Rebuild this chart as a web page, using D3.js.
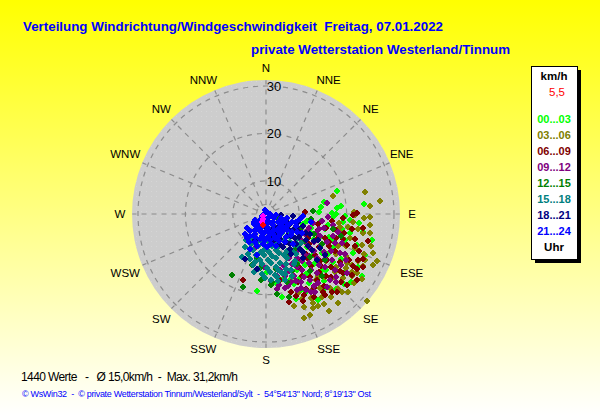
<!DOCTYPE html>
<html><head><meta charset="utf-8">
<script src="https://cdn.jsdelivr.net/npm/d3@7"></script>
<style>html,body{margin:0;padding:0;background:#fff}svg{display:block}text{font-family:"Liberation Sans",Arial,sans-serif}</style>
</head><body><div id="chart"></div>
<script>
const directions=["N","NNE","NE","ENE","E","ESE","SE","SSE","S","SSW","SW","WSW","W","WNW","NW","NNW"];
const ringValues=[5,10,20,30];
const ringLabels=[10,20,30];
const legendLabels=["00...03","03...06","06...09","09...12","12...15","15...18","18...21","21...24"];
const legendColors=["#00ff00","#808000","#800000","#800080","#008000","#008080","#000080","#0000ff"];
// each reading: [direction in degrees, speed in km/h]
const h00=[[72,18.7],[83,14.6],[85,18],[84,18.9],[84,23.8],[91.5,19.7],[89,17],[90,17.8],[93,17.1],[95.5,22.7],[100.5,23.8],[102.7,21.1],[99.7,11.8],[113,13.3],[105,11],[122.9,27.1],[128.7,26],[112.5,25.6],[141.4,23],[141.9,20.4],[152.8,21.5],[186.7,19.4],[169,20.8],[160.6,22],[179,15.2],[78,15.5],[88,14.2],[97,14.6],[104,15.8],[110,17.2],[96,19.3],[108,20.5],[116,19],[121,21.4],[114,23],[127,23.6],[133,20.2],[125,17.3],[136,17.6],[146,18.2],[151,16.5],[158,19],[144,14.9],[129,14.2],[118,14.4],[107,12.9],[165,17.2],[137,24.6],[149,24.2],[104,26],[100,16.2],[113,15.4],[123,18.6],[131,16.2],[139,21.6],[148,20.2],[155,20.6],[126,20.4],[117,21.8],[109,23.4],[94,20.7],[101,19.3],[143,16.6],[135,19.6],[152,18.2],[160,17.8],[172,17.8],[120,25.4],[132,25.2],[112,17.8]];
const h03=[[75,17.6],[77.5,24.4],[83.5,27.2],[85.6,25],[92.3,23.7],[91.7,25],[88.7,21.6],[96,25.1],[100.4,25.3],[97,18.5],[99,20.5],[99.3,22.7],[90.6,21.8],[130.7,31.2],[113,28.4],[115,26],[115.5,28],[120.7,24.1],[128,26.6],[135.7,26],[133.6,26.8],[147.2,25.6],[150.5,25.3],[153.4,25.2],[156.5,26.3],[160,26.4],[152,23.1],[156.8,22.4],[106,21.5],[108,24.2],[111,23],[118,22],[124,23.4],[127,21.5],[133,22.8],[139,23.6],[144,22.4],[149,21.7],[140,20.2],[118,26.2],[123,26],[126,25.4],[104,19.4],[114,19.6],[128,19.1],[158,21],[163,23.3],[146,24],[101,23.9],[107,26.2],[112,25.3],[121,22.9],[117,24.8],[124,24.9],[130,24.1],[136,24.9],[142,25.2],[130,22],[137,21.2],[143,20.4],[112,21.2],[120,20],[95,21.5],[100,18.8],[152,24.3],[158,24.2],[124,27.5],[141,27.2],[147,27.3],[110,27]];
const h06=[[89.4,22.1],[90.7,21.3],[104.8,25.3],[116.6,24.7],[118.7,26.3],[125.3,25.2],[139.8,24.6],[137.7,25.3],[144,24.1],[127.5,23.5],[199.2,17.8],[165.4,22.2],[160.8,18.4],[87,11.3],[96,17],[103,18.2],[100,21.5],[106,22.5],[111,21.4],[109,18.6],[114,17.5],[118,19.6],[112,24.1],[119,23.1],[123,21.5],[128,22.7],[132,24.3],[127,19.2],[133,19],[136,21.3],[141,22.6],[147,21.7],[145,19.2],[139,17.4],[130,16.6],[122,16.2],[116,15],[107,14.5],[101,14.1],[125,14],[135,14.8],[148,16.5],[155,18.8],[152,20.8],[162,20.2],[168,17.3],[157,23],[143,15.1],[121,25.4],[108,20.1],[93,19.2],[98,23.6],[104,20],[110,23],[115,25.5],[121,24.3],[126,26.8],[131,25.7],[134,22.1],[138,19.6],[144,23.4],[150,23.3],[155,21.9],[160,21.3],[117,18],[124,18],[131,18],[112,16.4],[120,13.3],[103,16],[129,20.6],[117,21.8],[142,20.6],[150,18.2],[137,15.9]];
const h09=[[80,16.1],[92.8,16.1],[150,22],[147.9,22.4],[171.7,19],[165.6,19.1],[196.9,10.3],[101,13],[108,12.6],[117,12.2],[126,11.9],[137,11.7],[148,12],[97,15],[104,15.6],[112,15.2],[120,14.8],[128,14.4],[136,14.6],[145,14.4],[153,14.9],[161,14.5],[108,17.8],[115,17.2],[123,17.6],[131,17.2],[139,16.7],[147,17.1],[156,17.3],[163,16.7],[170,16.3],[111,20.1],[118,20.6],[125,20],[132,19.8],[139,19.5],[146,19.7],[153,19.2],[160,18.2],[120,22.6],[129,21.7],[136,22.4],[143,21.3],[152,21.1],[158,20.3],[126,24],[134,23.6],[176,17.2],[182,14.2],[99,17.4],[104,18.6],[111,14.3],[119,16.3],[127,15.8],[134,15.7],[142,15.5],[150,15.9],[158,15.9],[166,15.2],[113,18.8],[120,18.8],[127,18.7],[134,18.6],[141,18.1],[149,18.4],[156,18.4],[163,18.9],[117,21.8],[124,22.2],[132,22.9],[140,23],[146,21.2],[155,20.3],[112,12.3],[126,13.2],[140,13.1],[152,13.5],[106,14.6],[170,18.2]];
const h12=[[209,17.8],[197.5,19.1],[164.5,21.1],[195.4,14.2],[186.3,14.5],[175,17.4],[176,18],[110,5.5],[112,11],[96,12.6],[86,12.9],[125,13],[141,12.6],[155,12.8],[134,16],[148,15.4],[118,16.4],[103,17.4],[128,18.8],[142,18.2],[155,16.2],[163,18.1],[170,14.8],[184,17],[191,12.4],[172,20],[138,20.6],[112,14],[106,19.5]];
const h15=[[183.8,15.7],[194,14.1],[140,8.3],[152,8],[165,8.2],[178,8.1],[192,8.4],[205,8.6],[134,10],[146,9.7],[158,10.2],[170,9.8],[182,10.3],[194,10],[206,10.1],[218,10],[138,11.8],[150,12],[161,11.6],[172,12],[183,11.7],[194,12],[205,12.2],[143,13.6],[154,13.3],[164,13.8],[174,13.4],[184,13.6],[193,13.4],[151,15.1],[160,15.4],[168,15],[176,15.2],[181,16.6],[170,16.6],[162,16.3],[127,9.2],[130,12.6],[120,11],[192,15.5],[157,17.2],[176,17],[209,13.3],[145,12.9],[156,12.4],[167,12.6],[178,12.7],[188,12.7],[199,13.1],[148,14.6],[158,14.4],[169,14.3],[179,14.4],[188,14.7],[165,15.8],[172,15.9],[156,16],[140,10.8],[152,10.8],[164,11],[176,11],[188,11],[200,11],[212,11.2],[135,12.3],[128,11.4],[170,17.4],[164,17.5],[150,9],[162,9],[174,9],[186,9.2],[198,9.2],[210,9.3]];
const h18=[[205,13.5],[189.3,14.8],[203,9],[94,6.2],[94,8.7],[115,6.2],[128,6.8],[145,6.3],[160,6.6],[180,6],[112,8.4],[124,8.7],[137,9.4],[150,9],[163,8.8],[118,10.6],[129,11],[141,11.2],[152,10.8],[123,13],[136,13.3],[148,13],[128,15.2],[119,14.6],[140,15.2],[108,11.3],[116,12.3],[132,17.5],[125,18.2],[125,7.7],[138,7.5],[152,7.8],[165,7.7],[110,7.4],[120,9.6],[132,10],[144,10.2],[156,10],[112,10.1],[124,11.5],[135,12],[146,12],[127,14.2],[136,14.2],[117,15.2],[104,10],[122,16.5],[115,13.2]];
const h21=[[233.6,8],[315,3.3],[108,4.3],[93,10.8],[98.4,10.3],[100.8,7.5],[100,12.6],[192.4,11.9],[95,3.8],[150,4],[190,4.2],[226,4.4],[250,4],[340,3.8],[30,3.6],[95,5.2],[118,5],[138,5.3],[160,4.9],[180,5.2],[202,5],[222,5.5],[104,6.3],[120,6.7],[136,7],[152,6.8],[168,7.1],[184,6.8],[200,6.9],[215,7.2],[230,6.3],[243,5.6],[107,8.7],[117,8.2],[127,8.5],[138,8.2],[149,8.4],[160,8.3],[171,8.6],[182,8.4],[193,8.5],[205,8.3],[217,8.7],[226,9.1],[112,9.8],[130,10],[146,10.2],[162,10],[179,9.9],[196,10.1],[212,9.9],[205,11.2],[118,11.5],[138,11.6],[125,6],[150,5.8],[170,6],[195,5.9],[212,6.1],[110,7.2],[128,7.6],[144,7.7],[160,7.6],[176,7.8],[190,7.7],[208,7.8],[222,7.9],[125,9.6],[138,9.4],[154,9.3],[170,9.4],[186,9.4],[202,9.3],[218,9.5],[104,9.6],[120,10.6],[234,6],[112,6.5]];
const recent=[[236,3.8],[211,4.2],[206.6,4.9]];
const current=[[194,5.5]];
const seriesList=[h00,h03,h06,h09,h12,h15,h18,h21];

const W=600,H=415,cx=266,cy=214;
const svg=d3.select("#chart").append("svg").attr("width",W).attr("height",H);
const defs=svg.append("defs");
const bg=defs.append("linearGradient").attr("id","bg").attr("x1",0).attr("x2",0).attr("y1",0).attr("y2",1);
bg.append("stop").attr("offset","0%").attr("stop-color","#ffff00");
bg.append("stop").attr("offset","100%").attr("stop-color","#ffffff");
const pat=defs.append("pattern").attr("id","dots").attr("width",5).attr("height",5).attr("patternUnits","userSpaceOnUse");
pat.append("rect").attr("width",5).attr("height",5).attr("fill","#cdcdcd");
pat.append("rect").attr("x",1).attr("y",1).attr("width",1).attr("height",1).attr("fill","#d6d6d6");
svg.append("rect").attr("width",W).attr("height",H).attr("fill","url(#bg)");

const rScale=d3.scaleLinear().domain([3,30]).range([0,128]);
const aScale=d3.scaleLinear().domain([0,360]).range([0,2*Math.PI]);
const px=(d,s)=>cx+rScale(s)*Math.sin(aScale(d));
const py=(d,s)=>cy-rScale(s)*Math.cos(aScale(d));

svg.append("circle").attr("cx",cx).attr("cy",cy).attr("r",134).attr("fill","url(#dots)");
const grid=svg.append("g").attr("fill","none").attr("stroke","#8c8c8c").attr("stroke-width",1.2).attr("stroke-dasharray","5 5");
grid.selectAll("circle").data(ringValues).join("circle").attr("cx",cx).attr("cy",cy).attr("r",d=>rScale(d));
grid.selectAll("line").data(directions).join("line")
 .attr("x1",(d,i)=>px(i*22.5,5)).attr("y1",(d,i)=>py(i*22.5,5))
 .attr("x2",(d,i)=>px(i*22.5,31.2)).attr("y2",(d,i)=>py(i*22.5,31.2));

svg.append("g").selectAll("text").data(ringLabels).join("text")
 .attr("x",cx+8).attr("y",d=>cy-rScale(d)+5).attr("text-anchor","middle").attr("font-size",13).attr("fill","#000").text(d=>d);

const labelR=i=>i%4===0?146:148;
const labelNudgeX=[0,6,0,-1,0,9,0,6,0,-6,0,-4,0,-4,0,-6];
const labelNudgeY=[0,3,0,-3,0,2,0,-2,0,-2,0,2,0,-3,0,3];
svg.append("g").selectAll("text").data(directions).join("text")
 .attr("x",(d,i)=>cx+labelR(i)*Math.sin(aScale(i*22.5))+labelNudgeX[i])
 .attr("y",(d,i)=>cy-labelR(i)*Math.cos(aScale(i*22.5))+4+labelNudgeY[i])
 .attr("text-anchor","middle").attr("font-size",11.5).attr("fill","#000").text(d=>d);

const diamond=d3.symbol().type(d3.symbolDiamond2).size(36);
function plot(data,color){
 svg.append("g").attr("fill",color).attr("shape-rendering","crispEdges").selectAll("path").data(data).join("path")
  .attr("d",diamond).attr("transform",d=>`translate(${Math.round(px(d[0],d[1]))},${Math.round(py(d[0],d[1]))})`);
}
seriesList.forEach((s,i)=>plot(s,legendColors[i]));
plot(recent,"#ff00ff");
plot(current,"#ff0000");

function title(t,x,y,len){svg.append("text").attr("x",x).attr("y",y).attr("font-size",13).attr("font-weight","bold").attr("fill","#0000ff").attr("textLength",len).attr("lengthAdjust","spacingAndGlyphs").attr("xml:space","preserve").text(t);}
title("Verteilung Windrichtung/Windgeschwindigkeit  Freitag, 07.01.2022",23,31,420);
title("private Wetterstation Westerland/Tinnum",251,54,259);

svg.append("rect").attr("x",535).attr("y",70).attr("width",46).attr("height",193).attr("fill","#000");
svg.append("rect").attr("x",531.5).attr("y",66.5).attr("width",46).attr("height",193).attr("fill","#fff").attr("stroke","#000");
const lx=554;
svg.append("text").attr("x",lx).attr("y",80).attr("text-anchor","middle").attr("font-size",11.5).attr("font-weight","bold").text("km/h");
svg.append("text").attr("x",557).attr("y",96).attr("text-anchor","middle").attr("font-size",11.5).attr("fill","#ff0000").text("5,5");
svg.append("g").selectAll("text").data(legendLabels).join("text")
 .attr("x",lx).attr("y",(d,i)=>123+i*16).attr("text-anchor","middle").attr("font-size",11).attr("font-weight","bold")
 .attr("fill",(d,i)=>legendColors[i]).text(d=>d);
svg.append("text").attr("x",lx).attr("y",251).attr("text-anchor","middle").attr("font-size",11.5).attr("font-weight","bold").text("Uhr");

svg.append("text").attr("x",21).attr("y",381).attr("font-size",12).attr("fill","#000").attr("textLength",217).attr("xml:space","preserve").text("1440 Werte   -   Ø 15,0km/h  -  Max. 31,2km/h");
svg.append("text").attr("x",22).attr("y",397).attr("font-size",9).attr("fill","#0000ff").attr("textLength",349).attr("xml:space","preserve").text("© WsWin32  -  © private Wetterstation Tinnum/Westerland/Sylt  -  54°54'13\" Nord; 8°19'13\" Ost");
</script></body></html>
